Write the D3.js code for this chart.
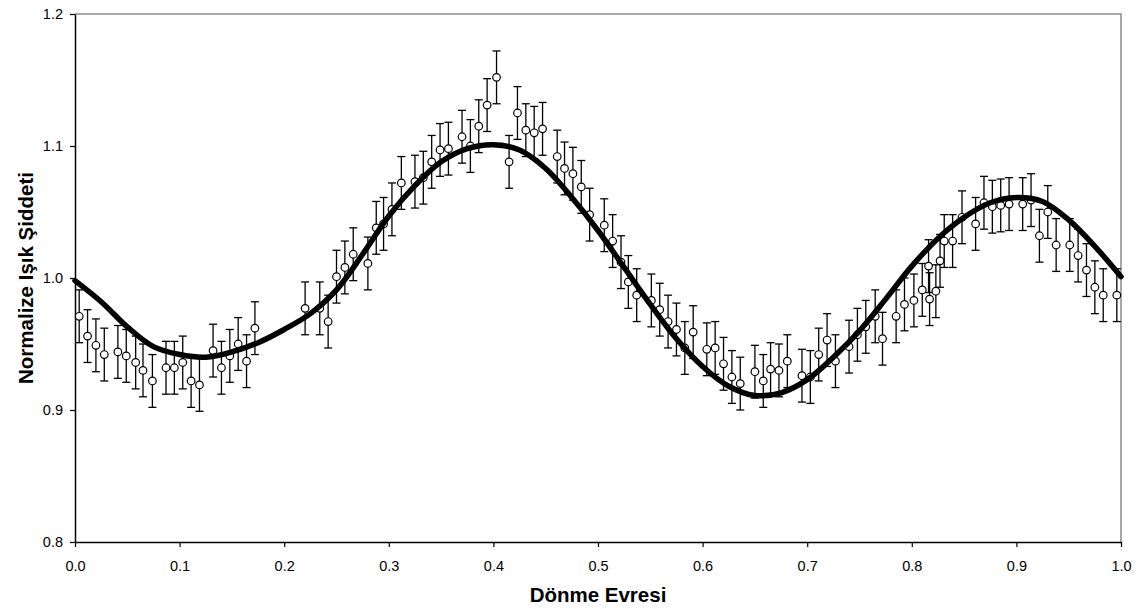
<!DOCTYPE html>
<html>
<head>
<meta charset="utf-8">
<script src="https://cdn.jsdelivr.net/npm/d3@7"></script>
<style>
  body { margin: 0; background: #fff; }
  text { font-family: "Liberation Sans", Arial, sans-serif; }
</style>
</head>
<body>
<div id="container"></div>
<script>
// observed phases and normalized intensities
const phase = [0.004,0.012,0.020,0.028,0.041,0.049,0.058,0.065,0.074,0.087,0.095,0.103,0.111,0.119,0.132,0.140,0.148,0.156,0.164,0.172,
  0.220,0.234,0.242,0.250,0.258,0.266,0.280,0.288,0.295,0.303,0.312,0.325,0.333,0.341,0.349,0.357,0.370,0.378,0.386,0.394,0.403,
  0.415,0.423,0.431,0.439,0.447,0.461,0.468,0.476,0.484,0.492,0.506,0.514,0.522,0.529,0.537,0.551,0.559,0.567,0.575,0.583,0.591,
  0.604,0.612,0.620,0.628,0.636,0.650,0.658,0.665,0.673,0.681,0.695,0.703,0.711,0.719,0.727,0.740,0.748,0.756,0.765,0.772,
  0.785,0.793,0.802,0.810,0.816,0.817,0.823,0.827,0.831,0.839,0.848,0.861,0.869,0.877,0.885,0.893,0.906,0.914,0.922,0.930,0.938,0.951,0.959,0.967,0.975,0.983,0.996];
const intensity = [0.971,0.956,0.949,0.942,0.944,0.941,0.936,0.930,0.922,0.932,0.932,0.936,0.922,0.919,0.945,0.932,0.941,0.950,0.937,0.962,
  0.977,0.977,0.967,1.001,1.008,1.018,1.011,1.038,1.041,1.052,1.072,1.073,1.076,1.088,1.097,1.098,1.107,1.100,1.115,1.131,1.152,
  1.088,1.125,1.112,1.110,1.113,1.092,1.083,1.079,1.069,1.048,1.040,1.028,1.012,0.997,0.987,0.983,0.976,0.967,0.961,0.947,0.959,
  0.946,0.947,0.935,0.925,0.920,0.929,0.922,0.931,0.930,0.937,0.926,0.925,0.942,0.953,0.937,0.948,0.957,0.963,0.971,0.954,
  0.971,0.980,0.983,0.991,1.009,0.984,0.990,1.013,1.028,1.028,1.046,1.041,1.057,1.054,1.055,1.056,1.056,1.059,1.032,1.050,1.025,1.025,1.017,1.006,0.993,0.987,0.987];
const errorBar = 0.02;

// model curve
const modelPhase = [0.000,0.025,0.050,0.075,0.100,0.125,0.150,0.175,0.200,0.225,0.250,0.275,0.300,0.325,0.350,0.375,0.400,0.425,0.450,0.475,
  0.500,0.525,0.550,0.575,0.600,0.625,0.650,0.675,0.700,0.725,0.750,0.775,0.800,0.825,0.850,0.875,0.900,0.925,0.950,0.975,1.000];
const modelValue = [0.998,0.982,0.963,0.948,0.942,0.940,0.944,0.951,0.961,0.973,0.991,1.018,1.047,1.070,1.088,1.098,1.101,1.097,1.083,1.061,
  1.036,1.008,0.980,0.954,0.933,0.918,0.911,0.913,0.923,0.940,0.960,0.984,1.009,1.030,1.046,1.057,1.061,1.058,1.044,1.024,1.001];

const xTicks = [0,0.1,0.2,0.3,0.4,0.5,0.6,0.7,0.8,0.9,1.0];
const yTicks = [0.8,0.9,1.0,1.1,1.2];

const w = 1146;
const h = 609;
const margin = {top: 14, right: 25, bottom: 67, left: 75};

const svg = d3.select('#container')
  .append('svg')
  .attr('width', w)
  .attr('height', h);

const xScale = d3.scaleLinear()
  .domain([0, 1])
  .range([margin.left, w - margin.right]);

const yScale = d3.scaleLinear()
  .domain([0.8, 1.2])
  .range([h - margin.bottom, margin.top]);

// grey frame on top and right
svg.append('path')
  .attr('d', `M${xScale(0)},${yScale(1.2)}H${xScale(1)}V${yScale(0.8)}`)
  .attr('fill', 'none')
  .attr('stroke', '#8c8c8c')
  .attr('stroke-width', 1.5);

const xAxis = d3.axisBottom(xScale).tickValues(xTicks).tickFormat(d3.format('.1f')).tickSize(5).tickSizeOuter(0);
const yAxis = d3.axisLeft(yScale).tickValues(yTicks).tickFormat(d3.format('.1f')).tickSize(5).tickSizeOuter(0);

const gx = svg.append('g')
  .attr('id', 'x-axis')
  .attr('transform', 'translate(0,' + (h - margin.bottom) + ')')
  .call(xAxis);

const gy = svg.append('g')
  .attr('id', 'y-axis')
  .attr('transform', 'translate(' + margin.left + ',0)')
  .call(yAxis);

[gx, gy].forEach(g => {
  g.select('.domain').attr('stroke', '#000').attr('stroke-width', 1.5);
  g.selectAll('.tick line').attr('stroke', '#000').attr('stroke-width', 1.2);
  g.selectAll('.tick text').attr('fill', '#000').style('font-size', '14.5px');
});
gx.selectAll('.tick text').attr('dy', '1.45em');
gy.selectAll('.tick text').attr('x', -12);

const points = phase.map((p, i) => ({p: p, v: intensity[i]}));

// error bars
const bars = svg.append('g').attr('stroke', '#000').attr('stroke-width', 1.3);
points.forEach(d => {
  const x = xScale(d.p);
  const y1 = yScale(d.v - errorBar);
  const y2 = yScale(d.v + errorBar);
  bars.append('line').attr('x1', x).attr('x2', x).attr('y1', y1).attr('y2', y2);
  bars.append('line').attr('x1', x - 4).attr('x2', x + 4).attr('y1', y1).attr('y2', y1);
  bars.append('line').attr('x1', x - 4).attr('x2', x + 4).attr('y1', y2).attr('y2', y2);
});

svg.append('g')
  .selectAll('circle')
  .data(points)
  .enter()
  .append('circle')
  .attr('cx', d => xScale(d.p))
  .attr('cy', d => yScale(d.v))
  .attr('r', 3.8)
  .attr('fill', '#fff')
  .attr('stroke', '#000')
  .attr('stroke-width', 1.2);

const line = d3.line()
  .x((d, i) => xScale(modelPhase[i]))
  .y(d => yScale(d))
  .curve(d3.curveCatmullRom);

svg.append('path')
  .datum(modelValue)
  .attr('d', line)
  .attr('fill', 'none')
  .attr('stroke', '#000')
  .attr('stroke-width', 5.5)
  .attr('stroke-linecap', 'round')
  .attr('stroke-linejoin', 'round');

svg.append('text')
  .attr('x', (xScale(0) + xScale(1)) / 2)
  .attr('y', 602)
  .attr('text-anchor', 'middle')
  .style('font-size', '20.5px')
  .style('font-weight', 'bold')
  .text('Dönme Evresi');

svg.append('text')
  .attr('transform', 'translate(33,' + yScale(1.0) + ') rotate(-90)')
  .attr('text-anchor', 'middle')
  .style('font-size', '20.5px')
  .style('font-weight', 'bold')
  .text('Normalize Işık Şiddeti');
</script>
</body>
</html>
